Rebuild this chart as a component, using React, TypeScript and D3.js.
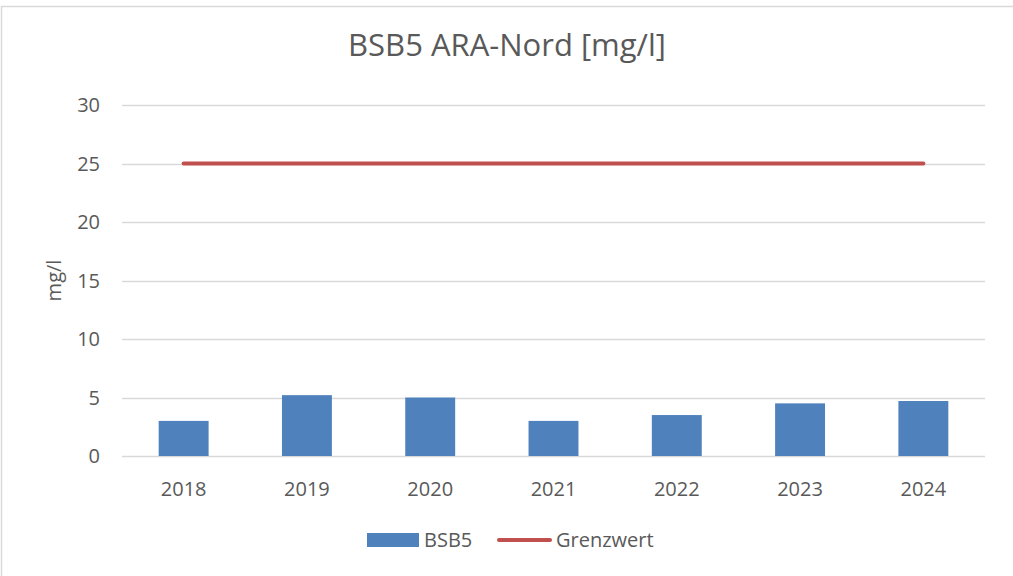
import React, { useEffect, useRef } from "react";
import * as d3 from "d3";

const years = ["2018", "2019", "2020", "2021", "2022", "2023", "2024"];
const bsb5 = [3.0, 5.2, 5.0, 3.0, 3.5, 4.5, 4.7];
const grenzwert = [25, 25, 25, 25, 25, 25, 25];
const yTicks = [0, 5, 10, 15, 20, 25, 30];

const W = 1013;
const H = 576;
const FONT = "'Open Sans', sans-serif";
const TEXT = "#595959";

const App = () => {
  const svgRef = useRef<SVGSVGElement>(null);

  useEffect(() => {
    const svg = d3.select(svgRef.current);
    svg.selectAll("*").remove();

    // plot area
    const margin = { top: 105, right: 28, bottom: 120, left: 122 };

    const x = d3
      .scaleBand()
      .domain(years)
      .range([margin.left, W - margin.right])
      .padding(0);

    const y = d3
      .scaleLinear()
      .domain([0, 30])
      .range([H - margin.bottom, margin.top]);

    const barW = x.bandwidth() * 0.405;
    const cx = (d: string) => (x(d) ?? 0) + x.bandwidth() / 2;

    // chart frame
    svg
      .append("rect")
      .attr("x", 1.5)
      .attr("y", 6.5)
      .attr("width", 1200)
      .attr("height", 800)
      .attr("fill", "#fff")
      .attr("stroke", "#d9d9d9")
      .attr("stroke-width", 1.5);

    // title
    svg
      .append("text")
      .attr("x", 507)
      .attr("y", 56)
      .attr("text-anchor", "middle")
      .attr("font-family", FONT)
      .attr("font-size", 31)
      .attr("fill", TEXT)
      .text("BSB5 ARA-Nord [mg/l]");

    // gridlines
    svg
      .append("g")
      .selectAll("line")
      .data(yTicks)
      .enter()
      .append("line")
      .attr("x1", margin.left)
      .attr("x2", W - margin.right)
      .attr("y1", (d) => Math.round(y(d)) + 0.5)
      .attr("y2", (d) => Math.round(y(d)) + 0.5)
      .attr("stroke", "#d9d9d9")
      .attr("stroke-width", 1.3);

    // y tick labels
    svg
      .append("g")
      .selectAll("text")
      .data(yTicks)
      .enter()
      .append("text")
      .attr("x", 100)
      .attr("y", (d) => y(d))
      .attr("dy", "0.35em")
      .attr("text-anchor", "end")
      .attr("font-family", FONT)
      .attr("font-size", 20)
      .attr("fill", TEXT)
      .text((d) => d);

    // y axis title
    svg
      .append("text")
      .attr("transform", `translate(61,${(y(0) + y(30)) / 2}) rotate(-90)`)
      .attr("text-anchor", "middle")
      .attr("font-family", FONT)
      .attr("font-size", 20)
      .attr("fill", TEXT)
      .text("mg/l");

    // bars
    svg
      .append("g")
      .selectAll("rect")
      .data(years)
      .enter()
      .append("rect")
      .attr("x", (d) => cx(d) - barW / 2)
      .attr("y", (d, i) => y(bsb5[i]))
      .attr("width", barW)
      .attr("height", (d, i) => y(0) - y(bsb5[i]))
      .attr("fill", "#4f81bd");

    // limit line
    const line = d3
      .line<number>()
      .x((d, i) => cx(years[i]))
      .y((d) => y(d));

    svg
      .append("path")
      .datum(grenzwert)
      .attr("d", line)
      .attr("fill", "none")
      .attr("stroke", "#c0504d")
      .attr("stroke-width", 4)
      .attr("stroke-linecap", "round");

    // x labels
    svg
      .append("g")
      .selectAll("text")
      .data(years)
      .enter()
      .append("text")
      .attr("x", (d) => cx(d))
      .attr("y", 496)
      .attr("text-anchor", "middle")
      .attr("font-family", FONT)
      .attr("font-size", 20)
      .attr("fill", TEXT)
      .text((d) => d);

    // legend
    const lg = svg.append("g").attr("font-family", FONT).attr("font-size", 20).attr("fill", TEXT);
    lg.append("rect")
      .attr("x", 367)
      .attr("y", 533)
      .attr("width", 52)
      .attr("height", 14)
      .attr("fill", "#4f81bd");
    lg.append("text").attr("x", 424).attr("y", 547).text("BSB5");
    lg.append("line")
      .attr("x1", 499)
      .attr("x2", 550)
      .attr("y1", 540)
      .attr("y2", 540)
      .attr("stroke", "#c0504d")
      .attr("stroke-width", 4)
      .attr("stroke-linecap", "round");
    lg.append("text").attr("x", 556).attr("y", 547).text("Grenzwert");
  }, []);

  return (
    <svg
      ref={svgRef}
      width={W}
      height={H}
      style={{ position: "absolute", left: 0, top: 0, display: "block" }}
    ></svg>
  );
};

export default App;
